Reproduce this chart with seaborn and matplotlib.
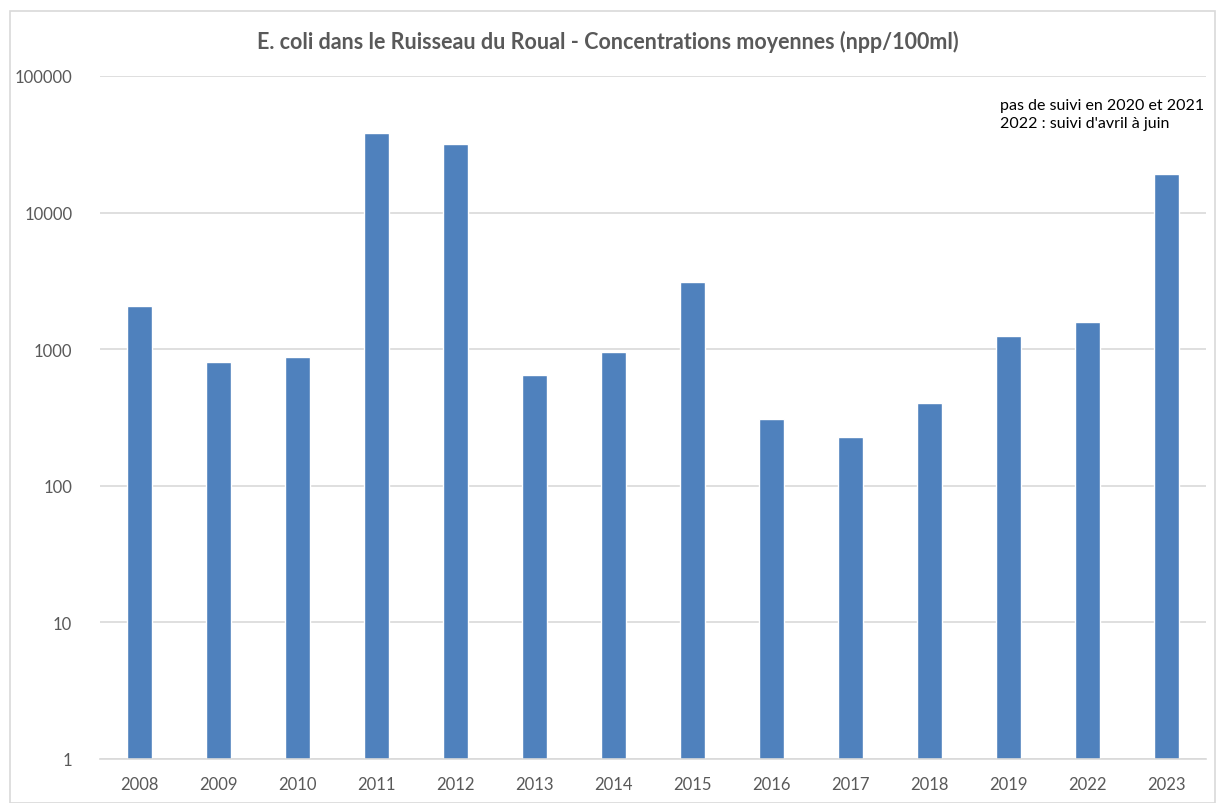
import pandas as pd
import seaborn as sns
import matplotlib.pyplot as plt
from matplotlib.ticker import FuncFormatter, NullLocator, FixedLocator
from matplotlib.patches import Rectangle

# mean E. coli concentrations (npp/100ml)
years = ["2008", "2009", "2010", "2011", "2012", "2013", "2014",
         "2015", "2016", "2017", "2018", "2019", "2022", "2023"]
concentrations = [2080, 810, 880, 38200, 31800, 650, 955,
                  3100, 308, 228, 405, 1250, 1580, 19200]
y_ticks = [1, 10, 100, 1000, 10000, 100000]

df = pd.DataFrame({"year": years, "conc": concentrations})

sns.set_theme(style="white")
plt.rcParams["font.family"] = ["Lato", "DejaVu Sans"]

fig = plt.figure(figsize=(12.16, 8.04), dpi=100)
ax = fig.add_axes([100 / 1216, 44 / 804, 1106 / 1216, 683 / 804])

sns.barplot(data=df, x="year", y="conc", color="#4f81bd", saturation=1,
            width=0.32, ax=ax)
ax.set_yscale("log")

ax.set_ylim(1, 100000)
ax.yaxis.set_major_locator(FixedLocator(y_ticks))
ax.yaxis.set_minor_locator(NullLocator())
ax.yaxis.set_major_formatter(FuncFormatter(lambda v, p: f"{int(round(v))}"))
ax.grid(axis="y", color="#d9d9d9", linewidth=1.2)
ax.set_axisbelow(True)

for side in ["top", "right", "left"]:
    ax.spines[side].set_visible(False)
ax.spines["bottom"].set_color("#d9d9d9")
ax.spines["bottom"].set_linewidth(1.2)

ax.tick_params(axis="both", length=0, labelsize=12, colors="#595959", pad=12)
ax.tick_params(axis="y", pad=20)
ax.set_xlabel("")
ax.set_ylabel("")

fig.text(0.5, 1 - 42 / 804, "E. coli dans le Ruisseau du Roual - Concentrations moyennes (npp/100ml)",
         ha="center", va="center", fontsize=15.5, fontweight="bold", color="#595959")
fig.text(1000 / 1216, 1 - 99 / 804, "pas de suivi en 2020 et 2021\n2022 : suivi d'avril à juin",
         ha="left", va="top", fontsize=11.5, color="black", linespacing=1.4)

fig.patches.append(Rectangle((10 / 1216, 0), 1 - 11 / 1216, 1 - 12 / 804,
                             transform=fig.transFigure, fill=False,
                             edgecolor="#d9d9d9", linewidth=1.2))

fig.savefig("out.png", dpi=100, facecolor="white")
